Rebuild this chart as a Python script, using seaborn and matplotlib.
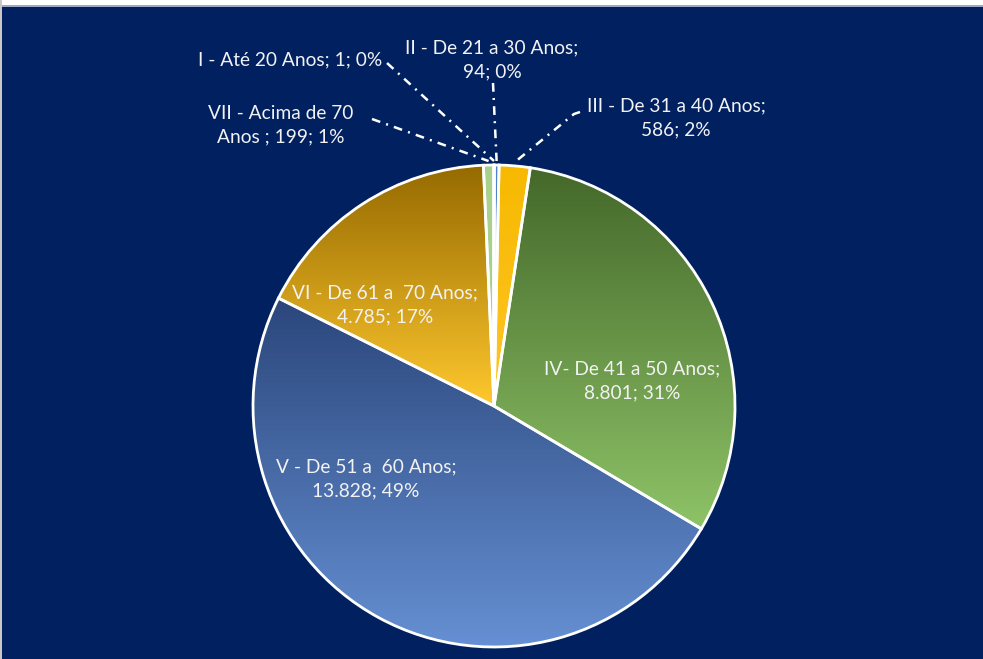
import numpy as np
import matplotlib.pyplot as plt
import matplotlib.patches as mpatches
import seaborn as sns

# dados: faixa etária, quantidade
faixas = ['I - Até 20 Anos', 'II - De 21 a 30 Anos', 'III - De 31 a 40 Anos',
          'IV- De 41 a 50 Anos', 'V - De 51 a  60 Anos', 'VI - De 61 a  70 Anos',
          'VII - Acima de 70\nAnos ']
valores = [1, 94, 586, 8801, 13828, 4785, 199]
separador = ['; ', ';\n', ';\n', ';\n', ';\n', ';\n', '; ']

# cores do degradê (topo escuro -> base clara)
cores = [('#4472C4', '#4472C4'),
         ('#4F81D0', '#4F81D0'),
         ('#F7B900', '#FFC526'),
         ('#44682A', '#8EC367'),
         ('#2B467B', '#6590D3'),
         ('#956A00', '#FFC82E'),
         ('#A9D18E', '#A9D18E')]

FUNDO = '#002060'
TEXTO = '#F2F2F2'

sns.set_theme(style="white")
plt.rcParams['font.family'] = ['Lato', 'DejaVu Sans']

fig = plt.figure(figsize=(9.83, 6.59), dpi=100, facecolor=FUNDO)
ax = fig.add_axes([0, 0, 1, 1])
ax.set_facecolor(FUNDO)

centro = (494, 253)
raio = 241
wedges, _ = ax.pie(valores, center=centro, radius=raio, startangle=90,
                   counterclock=False,
                   wedgeprops=dict(edgecolor='white', linewidth=2))

# preenchimento em degradê vertical por fatia
for w, (c0, c1) in zip(wedges, cores):
    cmap = sns.blend_palette([c0, c1], n_colors=256, as_cmap=True)
    bb = w.get_path().get_extents()
    grad = np.linspace(0, 1, 256).reshape(-1, 1)
    im = ax.imshow(grad, cmap=cmap, extent=[bb.x0, bb.x1, bb.y0, bb.y1],
                   origin='upper', aspect='auto', zorder=1, interpolation='bilinear')
    im.set_clip_path(w)
    w.set_facecolor('none')
    w.set_zorder(2)

total = sum(valores)
rotulos = []
for nome, sep, v in zip(faixas, separador, valores):
    pct = 100 * v / total
    rotulos.append(f"{nome}{sep}{v:,}".replace(',', '.') + f"; {pct:.0f}%")

fs = 13.8
ls = 1.45
# rótulos dentro das fatias grandes
internos = {3: (632, 278), 4: (366, 180), 5: (385, 354)}
for i, (x, y) in internos.items():
    ax.text(x, y, rotulos[i], ha='center', va='center', color=TEXTO,
            fontsize=fs, linespacing=ls, zorder=5)

# rótulos externos com linhas de chamada
externos = {0: dict(xy=(382, 599), ha='right', inicio=[(387, 596)]),
            1: dict(xy=(492, 599), ha='center', inicio=[(493, 576)]),
            2: dict(xy=(676, 541), ha='center', inicio=[(580, 547), (574, 545)]),
            6: dict(xy=(281, 534), ha='center', inicio=[(372, 540)])}
estilo = (0, (3.5, 2.5, 0.8, 2.5))
for i, cfg in externos.items():
    ax.text(*cfg['xy'], rotulos[i], ha=cfg['ha'], va='center', color=TEXTO,
            fontsize=fs, linespacing=ls, zorder=5)
    w = wedges[i]
    ang = np.deg2rad((w.theta1 + w.theta2) / 2)
    fim = (centro[0] + (raio + 4) * np.cos(ang), centro[1] + (raio + 4) * np.sin(ang))
    pts = cfg['inicio'] + [fim]
    ax.plot([p[0] for p in pts], [p[1] for p in pts], color='white', lw=1.8,
            linestyle=estilo, zorder=4, solid_capstyle='butt')

ax.set_xlim(0, 983)
ax.set_ylim(0, 659)
ax.set_aspect('equal')
ax.axis('off')

# moldura: faixa branca no topo e borda cinza à esquerda
fig.patches.append(mpatches.Rectangle((0, 1 - 5 / 659), 1, 5 / 659, transform=fig.transFigure,
                                      facecolor='white', edgecolor='none', zorder=10))
fig.patches.append(mpatches.Rectangle((0, 1 - 6.5 / 659), 1, 1.5 / 659, transform=fig.transFigure,
                                      facecolor='#9DA9C4', edgecolor='none', zorder=10))
fig.patches.append(mpatches.Rectangle((0, 0), 2 / 983, 1, transform=fig.transFigure,
                                      facecolor='#C8C8C8', edgecolor='none', zorder=10))

plt.savefig('out.png', dpi=100, facecolor=FUNDO)
plt.close()
